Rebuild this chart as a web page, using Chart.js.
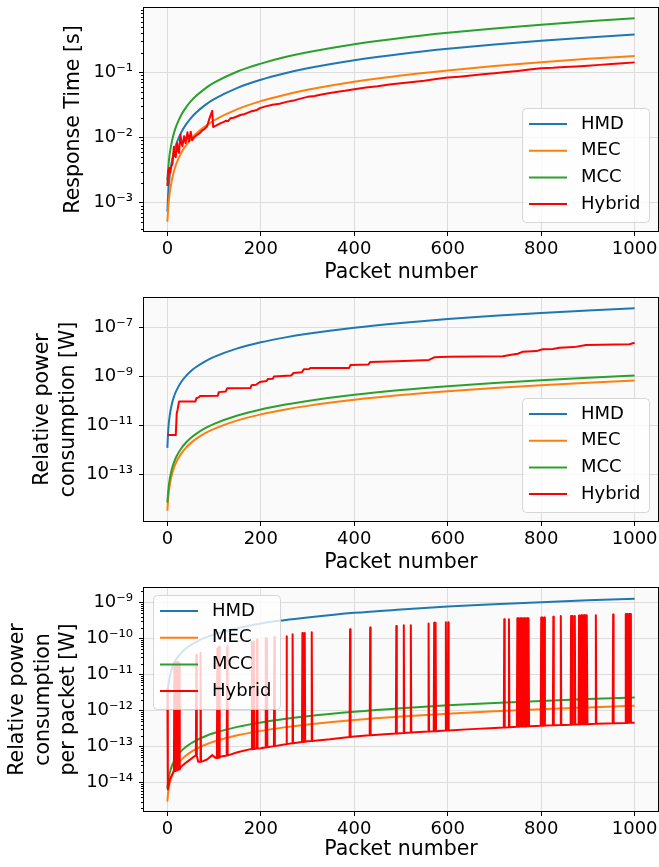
<!DOCTYPE html>
<html>
<head>
<meta charset="utf-8">
<title>Response time and power consumption per packet</title>
<script src="https://cdn.jsdelivr.net/npm/chart.js@4.4.1/dist/chart.umd.min.js"></script>
<style>
  html, body { margin: 0; padding: 0; background: #fff; }
  canvas { display: block; }
</style>
</head>
<body>
<canvas id="resp-time" width="659" height="290"></canvas>
<canvas id="power" width="659" height="290"></canvas>
<canvas id="power-packet" width="659" height="287"></canvas>
<script>
var seriesNames = ['HMD', 'MEC', 'MCC', 'Hybrid'];
var seriesColors = ['#1f77b4', '#ff7f0e', '#2ca02c', '#ff0000'];
var xTicks = [0, 200, 400, 600, 800, 1000];

var packets = [0, 2, 5, 10, 15, 20, 30, 40, 50, 60, 80, 100, 150, 200, 250, 300, 400, 500, 600, 700, 800, 900, 1000];

// --- Response Time [s]
var timeTicks = [1e-3, 1e-2, 1e-1];
var timeHMD = [7.3e-4, 1.5e-3, 2.6e-3, 4.5e-3, 6.4e-3, 8.3e-3, 0.0121, 0.0159, 0.0197, 0.0235, 0.0311, 0.0387, 0.0577, 0.0767, 0.0957, 0.115, 0.153, 0.191, 0.229, 0.267, 0.305, 0.343, 0.381];
var timeMEC = [5.1e-4, 8.7e-4, 1.4e-3, 2.3e-3, 3.2e-3, 4.1e-3, 5.9e-3, 7.6e-3, 9.4e-3, 0.0112, 0.0147, 0.0183, 0.0272, 0.0361, 0.045, 0.0539, 0.0717, 0.0895, 0.107, 0.125, 0.143, 0.161, 0.178];
var timeMCC = [2.2e-3, 3.5e-3, 5.6e-3, 8.9e-3, 0.0123, 0.0156, 0.0223, 0.029, 0.0357, 0.0424, 0.0558, 0.0692, 0.103, 0.136, 0.17, 0.203, 0.27, 0.337, 0.404, 0.471, 0.538, 0.605, 0.672];
var timeHybrid = [[0, 1.8e-3], [2, 3.1e-3], [4, 3.4e-3], [6, 2.9e-3], [8, 3.5e-3], [11, 4.0e-3], [14, 7.2e-3], [16, 5.2e-3], [18, 5.0e-3],
  [21, 8.2e-3], [23, 6.4e-3], [25, 5.8e-3], [28, 0.011], [30, 8.5e-3], [32, 7.4e-3], [36, 0.0105], [39, 8.2e-3], [43, 0.012], [46, 8.7e-3],
  [50, 0.0123], [53, 9.1e-3], [58, 0.0102], [64, 0.011], [70, 0.0118], [75, 0.0129], [80, 0.0136], [85, 0.0147], [90, 0.0195], [96, 0.0256],
  [98, 0.0145], [104, 0.0152], [110, 0.016], [114, 0.0166], [120, 0.0172], [126, 0.0181], [130, 0.0178], [135, 0.0197], [142, 0.0201],
  [150, 0.0212], [156, 0.0221], [164, 0.0228], [170, 0.0236], [178, 0.025], [185, 0.0258], [192, 0.0265], [198, 0.0282], [210, 0.03],
  [225, 0.0318], [240, 0.033], [255, 0.0352], [270, 0.0368], [285, 0.0395], [300, 0.042], [315, 0.0433], [330, 0.0458], [348, 0.048],
  [365, 0.0502], [380, 0.052], [400, 0.055], [425, 0.0585], [450, 0.0612], [475, 0.065], [500, 0.068], [525, 0.0712], [550, 0.0745],
  [575, 0.079], [600, 0.083], [625, 0.0858], [650, 0.0895], [675, 0.093], [700, 0.0966], [725, 0.101], [750, 0.105], [775, 0.11],
  [800, 0.115], [825, 0.117], [850, 0.1205], [875, 0.123], [900, 0.126], [925, 0.13], [950, 0.134], [975, 0.138], [1000, 0.142]];

// --- Relative power consumption [W]
var powerTicks = [1e-13, 1e-11, 1e-9, 1e-7];
var powerHMD = [1.2e-12, 7.2e-12, 2.5e-11, 8.1e-11, 1.67e-10, 2.84e-10, 6.1e-10, 1.06e-9, 1.64e-9, 2.34e-9, 4.1e-9, 6.37e-9, 1.42e-8, 2.52e-8, 3.92e-8, 5.63e-8, 1.0e-7, 1.56e-7, 2.24e-7, 3.05e-7, 3.98e-7, 5.03e-7, 6.2e-7];
var powerMEC = [3.2e-15, 1.19e-14, 3.5e-14, 1.02e-13, 2.03e-13, 3.39e-13, 7.13e-13, 1.23e-12, 1.88e-12, 2.67e-12, 4.66e-12, 7.2e-12, 1.6e-11, 2.82e-11, 4.39e-11, 6.3e-11, 1.11e-10, 1.74e-10, 2.5e-10, 3.4e-10, 4.44e-10, 5.6e-10, 6.9e-10];
var powerMCC = [6.9e-15, 2.2e-14, 6.2e-14, 1.72e-13, 3.37e-13, 5.57e-13, 1.16e-12, 1.99e-12, 3.03e-12, 4.3e-12, 7.5e-12, 1.16e-11, 2.56e-11, 4.5e-11, 7.0e-11, 1.0e-10, 1.78e-10, 2.78e-10, 3.99e-10, 5.42e-10, 7.08e-10, 8.94e-10, 1.1e-9];
var powerHybrid = [[0, 4e-12], [18, 4e-12], [20, 3e-11], [22, 4.5e-11], [25, 9.5e-11], [60, 9.5e-11], [62, 1.3e-10], [67, 1.4e-10],
  [70, 1.6e-10], [108, 1.65e-10], [110, 2.3e-10], [125, 2.45e-10], [128, 3.3e-10], [178, 3.4e-10], [180, 4.4e-10], [190, 4.6e-10],
  [198, 6.0e-10], [212, 6.5e-10], [215, 7.9e-10], [226, 8.2e-10], [228, 1.0e-9], [265, 1.1e-9], [270, 1.4e-9], [288, 1.5e-9],
  [292, 2.0e-9], [304, 2.05e-9], [306, 2.26e-9], [389, 2.26e-9], [392, 3.0e-9], [430, 3.1e-9], [434, 3.9e-9], [490, 4.2e-9],
  [520, 4.4e-9], [560, 4.8e-9], [572, 6.2e-9], [600, 6.4e-9], [718, 6.7e-9], [733, 7.6e-9], [750, 8.6e-9], [761, 1.04e-8],
  [790, 1.1e-8], [803, 1.3e-8], [825, 1.35e-8], [839, 1.5e-8], [870, 1.6e-8], [896, 1.95e-8], [989, 2.1e-8], [1000, 2.4e-8]];

// --- Relative power consumption per packet [W]
var perPacketTicks = [1e-14, 1e-13, 1e-12, 1e-11, 1e-10, 1e-9];
var perPacketHMD = [2.4e-12, 4.9e-12, 8.7e-12, 1.5e-11, 2.13e-11, 2.76e-11, 4.0e-11, 5.3e-11, 6.5e-11, 7.8e-11, 1.03e-10, 1.28e-10, 1.91e-10, 2.6e-10, 3.2e-10, 3.8e-10, 5.1e-10, 6.3e-10, 7.6e-10, 8.8e-10, 1.01e-9, 1.14e-9, 1.26e-9];
var perPacketMEC = [3e-15, 5.7e-15, 9.7e-15, 1.65e-14, 2.32e-14, 3.0e-14, 4.35e-14, 5.7e-14, 7.05e-14, 8.4e-14, 1.11e-13, 1.38e-13, 2.06e-13, 2.73e-13, 3.41e-13, 4.08e-13, 5.43e-13, 6.78e-13, 8.13e-13, 9.48e-13, 1.08e-12, 1.22e-12, 1.35e-12];
var perPacketMCC = [7e-15, 1.15e-14, 1.84e-14, 3.0e-14, 4.1e-14, 5.3e-14, 7.6e-14, 9.9e-14, 1.22e-13, 1.45e-13, 1.91e-13, 2.37e-13, 3.52e-13, 4.67e-13, 5.82e-13, 6.97e-13, 9.27e-13, 1.16e-12, 1.39e-12, 1.62e-12, 1.85e-12, 2.08e-12, 2.3e-12];
// hybrid baseline [packet, value]
var perPacketHybridBase = [[0, 4.2e-12], [1, 6.5e-15], [5, 1.2e-14], [10, 1.6e-14], [13, 2.0e-14], [27, 2.4e-14], [30, 2.8e-14],
  [40, 3.6e-14], [50, 4.5e-14], [58, 5.4e-14], [66, 3.8e-14], [69, 3.8e-14], [75, 3.9e-14], [85, 4.4e-14], [96, 5.8e-14],
  [104, 4.8e-14], [114, 5.3e-14], [125, 5.6e-14], [131, 5.8e-14], [150, 7.0e-14], [178, 8.5e-14], [200, 9.0e-14], [250, 1.15e-13],
  [300, 1.4e-13], [348, 1.6e-13], [400, 1.9e-13], [500, 2.35e-13], [650, 3.05e-13], [700, 3.3e-13], [790, 3.75e-13], [850, 4.0e-13],
  [940, 4.36e-13], [1000, 4.6e-13]];
// hybrid spikes [packet, baseline next to it, peak]
var perPacketHybridSpikes = [[15, 2.1e-14, 2.2e-11], [17, 2.1e-14, 2.2e-11], [19, 2.2e-14, 2.1e-11], [21, 2.2e-14, 2.2e-11],
  [23, 2.3e-14, 2.2e-11], [25, 2.3e-14, 2.0e-11], [62, 5.6e-14, 3.5e-11], [71, 3.8e-14, 4.0e-11], [107, 4.8e-14, 5.2e-11],
  [111, 5.0e-14, 5.9e-11], [128, 5.7e-14, 6.1e-11], [181, 8.5e-14, 8.1e-11], [185, 8.6e-14, 8.1e-11], [192, 8.8e-14, 9.3e-11],
  [210, 9.5e-14, 1.0e-10], [213, 9.6e-14, 1.0e-10], [229, 1.03e-13, 1.1e-10], [255, 1.17e-13, 1.15e-10], [268, 1.24e-13, 1.3e-10],
  [289, 1.34e-13, 1.4e-10], [294, 1.37e-13, 1.4e-10], [309, 1.44e-13, 1.47e-10], [391, 1.85e-13, 1.8e-10], [434, 2.05e-13, 2.0e-10],
  [490, 2.3e-13, 2.2e-10], [506, 2.38e-13, 2.3e-10], [521, 2.45e-13, 2.3e-10], [559, 2.62e-13, 2.6e-10], [571, 2.67e-13, 2.7e-10],
  [574, 2.68e-13, 2.7e-10], [596, 2.78e-13, 2.8e-10], [601, 2.8e-13, 2.8e-10], [721, 3.4e-13, 3.4e-10], [731, 3.45e-13, 3.4e-10],
  [749, 3.55e-13, 3.6e-10], [752, 3.56e-13, 3.6e-10], [755, 3.58e-13, 3.6e-10], [758, 3.59e-13, 3.6e-10], [761, 3.6e-13, 3.6e-10],
  [764, 3.62e-13, 3.6e-10], [767, 3.63e-13, 3.6e-10], [770, 3.65e-13, 3.6e-10], [773, 3.66e-13, 3.6e-10], [800, 3.8e-13, 3.8e-10],
  [803, 3.81e-13, 3.8e-10], [807, 3.83e-13, 3.8e-10], [826, 3.9e-13, 4.0e-10], [842, 3.97e-13, 4.2e-10], [864, 4.05e-13, 4.2e-10],
  [867, 4.07e-13, 4.2e-10], [872, 4.09e-13, 4.2e-10], [881, 4.12e-13, 4.3e-10], [886, 4.14e-13, 4.4e-10], [889, 4.15e-13, 4.4e-10],
  [892, 4.17e-13, 4.4e-10], [895, 4.18e-13, 4.4e-10], [898, 4.19e-13, 4.4e-10], [917, 4.27e-13, 4.4e-10], [954, 4.42e-13, 4.6e-10],
  [981, 4.52e-13, 4.7e-10], [984, 4.53e-13, 4.7e-10], [988, 4.55e-13, 4.7e-10], [991, 4.56e-13, 4.7e-10]];

Chart.defaults.font.family = '"DejaVu Sans", sans-serif';
Chart.defaults.color = '#000';

var sup = { '-': '\u207b', '0': '\u2070', '1': '\u00b9', '2': '\u00b2', '3': '\u00b3', '4': '\u2074',
  '5': '\u2075', '6': '\u2076', '7': '\u2077', '8': '\u2078', '9': '\u2079' };

function decadeLabel(v) {
  var exp = String(Math.round(Math.log10(v)));
  return '10' + exp.split('').map(function (c) { return sup[c]; }).join('');
}

function curve(ys) {
  return packets.map(function (x, i) { return { x: x, y: ys[i] }; });
}

function pairs(list) {
  return list.map(function (p) { return { x: p[0], y: p[1] }; });
}

function spikyHybrid() {
  var pts = pairs(perPacketHybridBase);
  perPacketHybridSpikes.forEach(function (s) {
    pts.push({ x: s[0] - 1, y: s[1] }, { x: s[0], y: s[2] }, { x: s[0] + 1, y: s[1] });
  });
  return pts.sort(function (a, b) { return a.x - b.x; });
}

// plot background, black frame, minor log ticks and the legend inside the axes
var axesDecor = {
  id: 'axesDecor',
  beforeDraw: function (chart) {
    var a = chart.chartArea, ctx = chart.ctx;
    ctx.save();
    ctx.fillStyle = '#fafafa';
    ctx.fillRect(a.left, a.top, a.right - a.left, a.bottom - a.top);
    ctx.restore();
  },
  afterDatasetsDraw: function (chart, args, opts) {
    var a = chart.chartArea, ctx = chart.ctx, y = chart.scales.y;
    ctx.save();
    ctx.strokeStyle = '#000';
    ctx.lineWidth = 1;
    if (opts.minor) {
      var lo = Math.floor(Math.log10(y.min)), hi = Math.ceil(Math.log10(y.max));
      ctx.beginPath();
      for (var k = lo; k < hi; k++) {
        for (var m = 2; m < 10; m++) {
          var v = m * Math.pow(10, k);
          if (v < y.min || v > y.max) continue;
          var py = Math.round(y.getPixelForValue(v)) + 0.5;
          ctx.moveTo(a.left - 3, py);
          ctx.lineTo(a.left, py);
        }
      }
      ctx.stroke();
    }
    ctx.strokeRect(a.left - 0.5, a.top - 0.5, a.right - a.left + 1, a.bottom - a.top + 1);

    // legend box
    var w = 127, h = 114;
    var x0 = opts.corner === 'upper left' ? a.left + 9 : a.right - 9 - w;
    var y0 = opts.corner === 'upper left' ? a.top + 7 : a.bottom - 9 - h;
    ctx.beginPath();
    ctx.roundRect(x0 + 0.5, y0 + 0.5, w, h, 4);
    ctx.fillStyle = 'rgba(255,255,255,0.8)';
    ctx.fill();
    ctx.strokeStyle = 'rgba(204,204,204,0.8)';
    ctx.stroke();
    ctx.font = '18px "DejaVu Sans"';
    ctx.textBaseline = 'middle';
    chart.data.datasets.forEach(function (ds, i) {
      var ly = y0 + 16 + i * 26.7;
      ctx.beginPath();
      ctx.moveTo(x0 + 7, ly);
      ctx.lineTo(x0 + 45, ly);
      ctx.strokeStyle = ds.borderColor;
      ctx.lineWidth = 2;
      ctx.stroke();
      ctx.fillStyle = '#000';
      ctx.fillText(ds.label, x0 + 59, ly);
    });
    ctx.restore();
  }
};

function makePanel(id, p) {
  var datasets = p.series.map(function (data, i) {
    var smooth = i < 3;
    return {
      label: seriesNames[i],
      data: data,
      borderColor: seriesColors[i],
      backgroundColor: seriesColors[i],
      borderWidth: 2,
      borderJoinStyle: 'round',
      pointRadius: 0,
      cubicInterpolationMode: smooth ? 'monotone' : 'default',
      tension: 0,
      order: 4 - i
    };
  });

  return new Chart(document.getElementById(id), {
    type: 'line',
    data: { datasets: datasets },
    plugins: [axesDecor],
    options: {
      responsive: false,
      animation: false,
      devicePixelRatio: 1,
      layout: { padding: { top: 8, right: 1, left: 0, bottom: 0 } },
      plugins: {
        legend: { display: false },
        tooltip: { enabled: false },
        axesDecor: { corner: p.corner, minor: p.minor }
      },
      scales: {
        x: {
          type: 'linear',
          min: -50,
          max: 1050,
          afterBuildTicks: function (s) { s.ticks = xTicks.map(function (v) { return { value: v }; }); },
          afterFit: function (s) {
            s.height = p.xHeight;
            s.paddingLeft = 0;
            s.paddingRight = 0;
          },
          ticks: { font: { size: 18 }, padding: 3, maxRotation: 0, callback: function (v) { return String(v); } },
          grid: { color: '#dddddd', lineWidth: 1, tickLength: 5, tickColor: '#000' },
          border: { display: false },
          title: { display: true, text: 'Packet number', font: { size: 20.5 }, padding: { top: 0, bottom: 5 } }
        },
        y: {
          type: 'logarithmic',
          min: p.yMin,
          max: p.yMax,
          afterBuildTicks: function (s) { s.ticks = p.yTicks.map(function (v) { return { value: v }; }); },
          afterFit: function (s) {
            s.width = 144;
            s.paddingTop = 0;
            s.paddingBottom = 0;
          },
          ticks: { font: { size: 18 }, padding: 6, callback: function (v) { return decadeLabel(v); } },
          grid: { color: '#dddddd', lineWidth: 1, tickLength: 5, tickColor: '#000' },
          border: { display: false },
          title: { display: true, text: p.yTitle, font: { size: 20.5, lineHeight: 1.25 }, padding: { top: p.titlePad, bottom: 0 } }
        }
      }
    }
  });
}

makePanel('resp-time', {
  series: [curve(timeHMD), curve(timeMEC), curve(timeMCC), pairs(timeHybrid)],
  yTicks: timeTicks, yMin: 3.68e-4, yMax: 0.969,
  yTitle: 'Response Time [s]', titlePad: 60.8,
  corner: 'lower right', minor: true, xHeight: 59
});

makePanel('power', {
  series: [curve(powerHMD), curve(powerMEC), curve(powerMCC), pairs(powerHybrid)],
  yTicks: powerTicks, yMin: 1.22e-15, yMax: 1.64e-6,
  yTitle: ['Relative power', 'consumption [W]'], titlePad: 30.1,
  corner: 'lower right', minor: false, xHeight: 59
});

makePanel('power-packet', {
  series: [curve(perPacketHMD), curve(perPacketMEC), curve(perPacketMCC), spikyHybrid()],
  yTicks: perPacketTicks, yMin: 1.64e-15, yMax: 2.49e-9,
  yTitle: ['Relative power', 'consumption', 'per packet [W]'], titlePad: 5.1,
  corner: 'upper left', minor: true, xHeight: 56
});
</script>
</body>
</html>
